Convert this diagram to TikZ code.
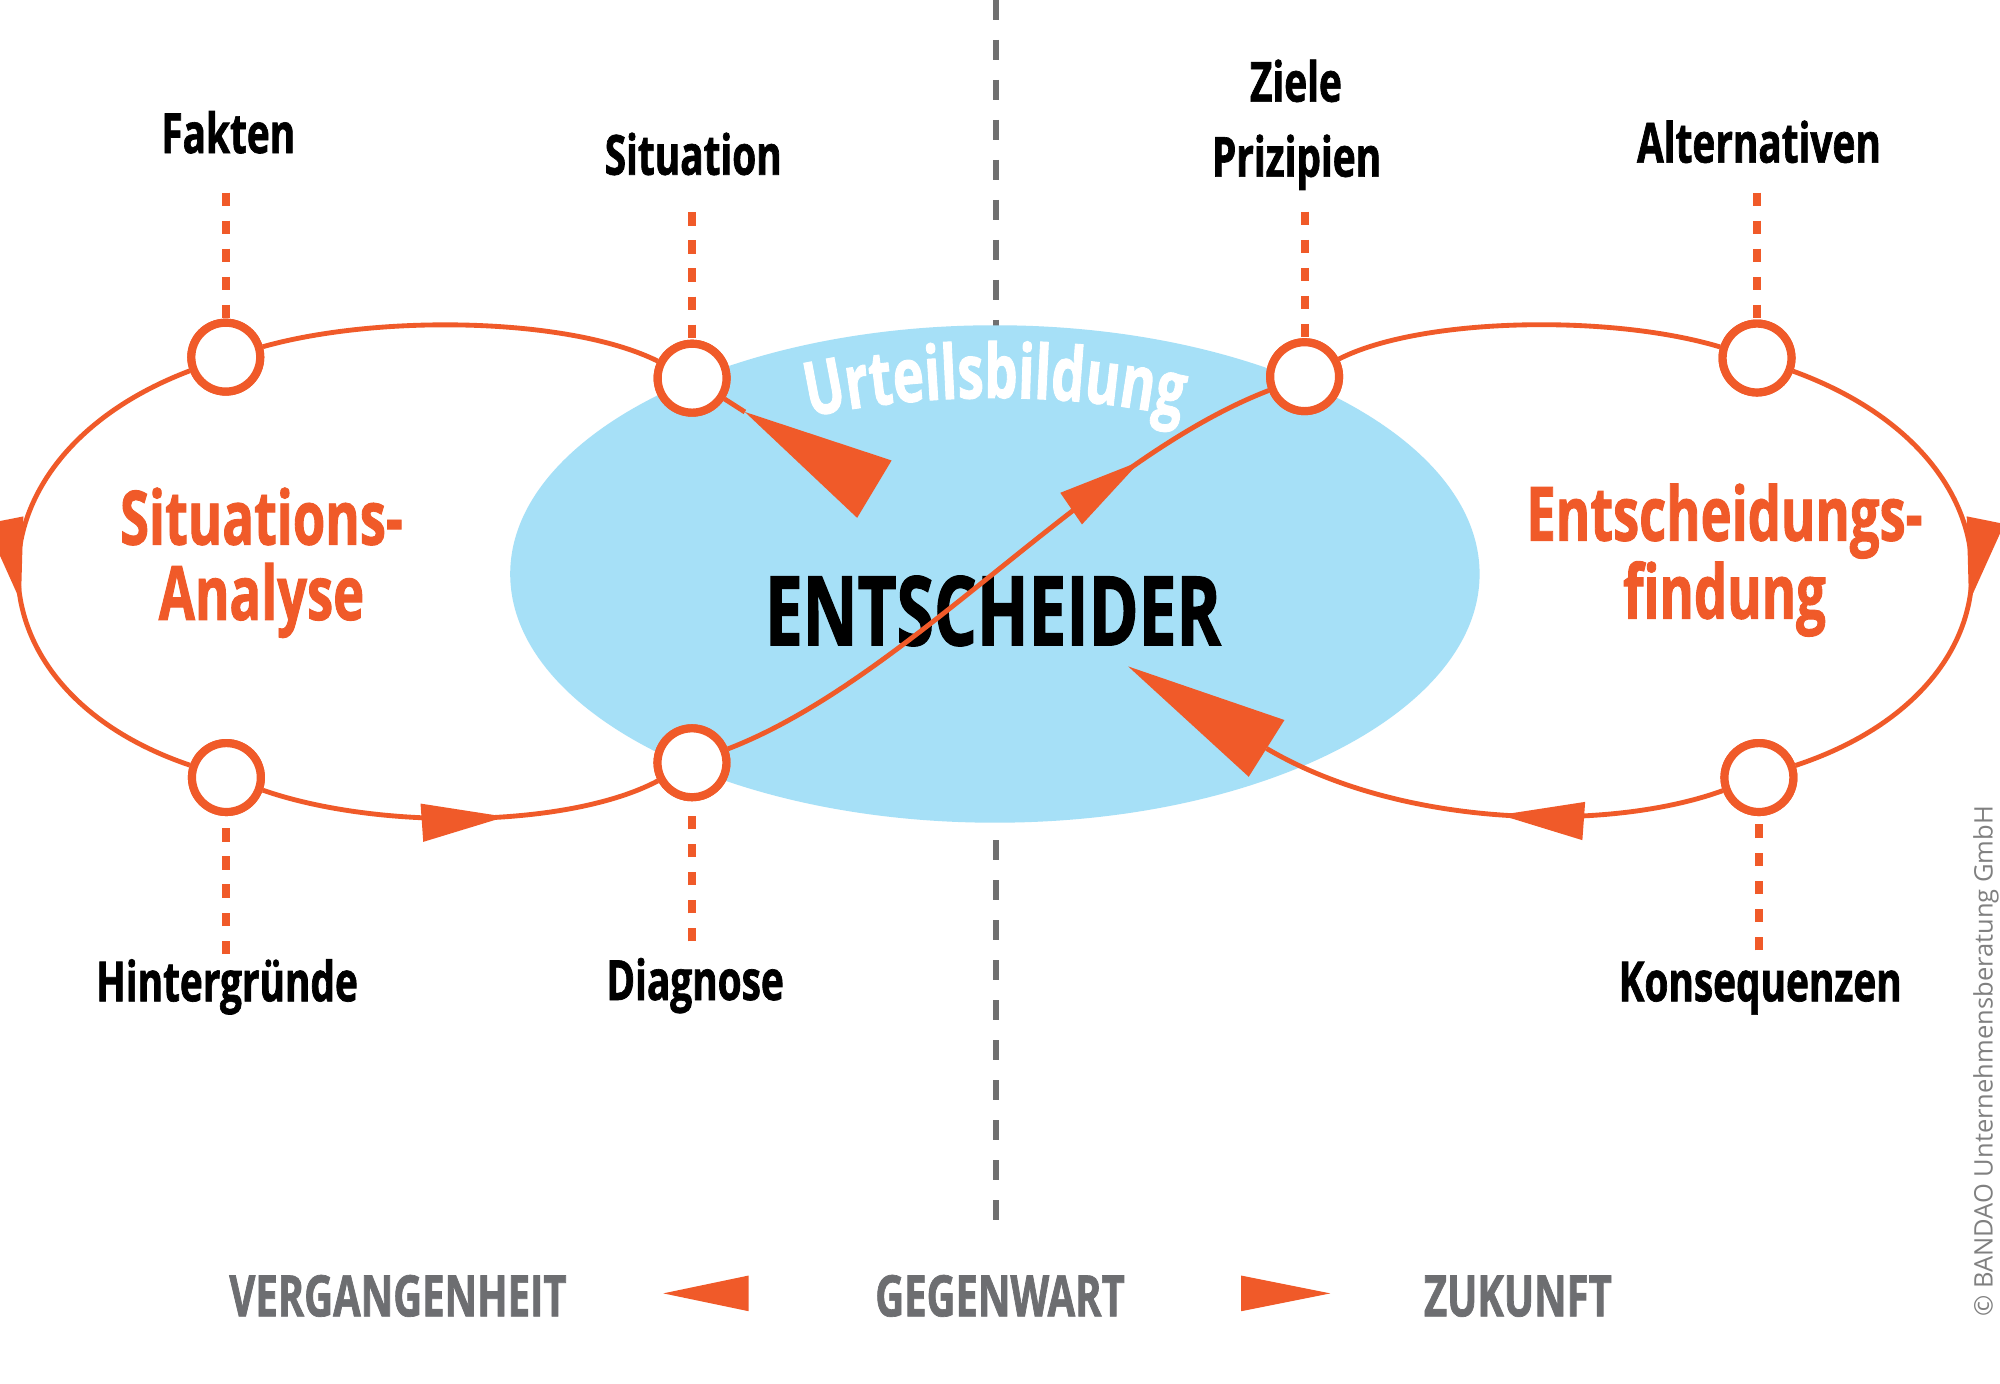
\documentclass[tikz,border=0pt]{standalone}
\usepackage{fontspec}
\setmainfont{Open Sans}
\newfontfamily\cond{Open Sans}[FakeStretch=0.7, BoldFeatures={FakeBold=1.2}]
\usetikzlibrary{arrows.meta,decorations.markings,decorations.text}
\definecolor{orng}{RGB}{240,90,41}
\definecolor{skyb}{RGB}{166,224,247}
\definecolor{gline}{RGB}{112,112,112}
\definecolor{gtext}{RGB}{109,110,113}
\definecolor{gcopy}{RGB}{128,128,128}
\newcommand\urtfont{\cond\bfseries\fontsize{29.5}{32}\selectfont}
\begin{document}
\begin{tikzpicture}[x=0.5pt,y=-0.5pt,
  flow/.style={draw=orng, line width=1.9pt},
  midarrow/.style={postaction={decorate}, decoration={markings, mark=at position #1 with {\arrow{Triangle[length=33pt,width=14.5pt]}}}},
  hub/.style={circle, draw=orng, fill=white, line width=3.2pt, minimum size=27pt, inner sep=0pt},
  odash/.style={draw=orng, line width=3.1pt, dash pattern=on 5.3pt off 5.7pt},
  gdash/.style={draw=gline, line width=2.35pt, dash pattern=on 7.84pt off 7.84pt},
  lbl/.style={font=\cond\bfseries\fontsize{21.7}{26}\selectfont, text=black, inner sep=0pt, anchor=base},
  phase/.style={font=\cond\bfseries\fontsize{29.4}{29.5}\selectfont, text=orng, align=center, inner sep=0pt, anchor=base},
  timelbl/.style={font=\cond\bfseries\fontsize{22.4}{26}\selectfont, text=gtext, inner sep=0pt, anchor=base},
  legendtri/.style={fill=orng}
]
\useasboundingbox (0,0) rectangle (1568,1085);
\fill[white] (0,0) rectangle (1568,1085);

% divider
\coordinate (div-top) at (780.6,0);
\coordinate (div-bot) at (780.6,962);
\draw[gdash] (div-top) -- (div-bot);

% judgement ellipse
\fill[skyb] (780,450) ellipse [x radius=380, y radius=195];
\path[decorate, decoration={text along path, text align=center, text color=white,
   text={|\urtfont|Urteilsbildung}}]
   (596,337) arc[start angle=235, end angle=305, x radius=321, y radius=138];
\node[font=\cond\bfseries\fontsize{37.8}{40}\selectfont, inner sep=0pt, anchor=base] (ent) at (778.5,506) {ENTSCHEIDER};

% hubs (positions)
\coordinate (fak-c) at (177,280);
\coordinate (sit-c) at (542.6,296.5);
\coordinate (hin-c) at (177.5,609.6);
\coordinate (dia-c) at (542.5,598);
\coordinate (zie-c) at (1022.8,295.3);
\coordinate (alt-c) at (1377.5,280.7);
\coordinate (kon-c) at (1379,609.6);

% dashed leader ends
\coordinate (fak-d) at (177,151);
\coordinate (sit-d) at (542.6,166.5);
\coordinate (zie-d) at (1022.8,166);
\coordinate (alt-d) at (1377.5,151);
\coordinate (hin-d) at (177.5,748);
\coordinate (dia-d) at (542.5,738);
\coordinate (kon-d) at (1379,745);

\node[hub] (fak) at (fak-c) {};
\node[hub] (sit) at (sit-c) {};
\node[hub] (hin) at (hin-c) {};
\node[hub] (dia) at (dia-c) {};
\node[hub] (zie) at (zie-c) {};
\node[hub] (alt) at (alt-c) {};
\node[hub] (kon) at (kon-c) {};

% big arrow coordinates
\coordinate (sa-tip) at (584,323);
\coordinate (sa-b1) at (699,361);
\coordinate (sa-b2) at (672,406);
\coordinate (ka-tip) at (884.5,522.5);
\coordinate (ka-b1) at (1007,564.5);
\coordinate (ka-b2) at (979,609);
\coordinate (ka-base) at (993,586.8);

% loops
\draw[flow] (sit) .. controls (447,249) and (298,246) .. (fak);
\draw[flow, midarrow=0.56] (fak) .. controls (-30.9,359) and (-30.9,539) .. (hin);
\draw[flow, midarrow=0.61] (hin) .. controls (298.5,651.6) and (447,648.7) .. (dia);
\draw[flow, midarrow=0.775] (dia) .. controls (713.5,532) and (851.8,361.3) .. (zie);
\draw[flow] (zie) .. controls (1113,249) and (1262,246) .. (alt);
\draw[flow, midarrow=0.56] (alt) .. controls (1592.4,359) and (1592.4,539) .. (kon);
\draw[flow, midarrow=0.48] (kon) .. controls (1262,652) and (1100,650) .. (ka-base);
\fill[orng] (ka-tip) -- (ka-b1) -- (ka-b2) -- cycle;
\draw[flow] (sit) -- (sa-tip);
\fill[orng] (sa-tip) -- (sa-b1) -- (sa-b2) -- cycle;

% dashed leaders
\draw[odash] (fak-d) -- (fak);
\draw[odash] (sit-d) -- (sit);
\draw[odash] (zie-d) -- (zie);
\draw[odash] (alt-d) -- (alt);
\draw[odash] (hin-d) -- (hin);
\draw[odash] (dia-d) -- (dia);
\draw[odash] (kon-d) -- (kon);

% redraw hubs on top
\node[hub] at (fak-c) {};
\node[hub] at (sit-c) {};
\node[hub] at (hin-c) {};
\node[hub] at (dia-c) {};
\node[hub] at (zie-c) {};
\node[hub] at (alt-c) {};
\node[hub] at (kon-c) {};

% labels
\node[lbl] (fak-t) at (179,120) {Fakten};
\node[lbl] (sit-t) at (543.5,137) {Situation};
\node[lbl] (zie-t) at (1016,79.7) {Ziele};
\node[lbl] (pri-t) at (1016.5,138.5) {Prizipien};
\node[lbl] (alt-t) at (1379,127.5) {Alternativen};
\node[lbl] (hin-t) at (178,785) {Hintergründe};
\node[lbl] (dia-t) at (545,784) {Diagnose};
\node[lbl] (kon-t) at (1380,785) {Konsequenzen};

\node[phase] (sa-t) at (205,486) {Situations-\\Analyse};
\node[phase] (ef-t) at (1352,485) {Entscheidungs-\\findung};

% time legend
\node[timelbl] (past) at (312,1032) {VERGANGENHEIT};
\node[timelbl] (now) at (784,1032) {GEGENWART};
\node[timelbl] (fut) at (1190,1032) {ZUKUNFT};
\fill[legendtri] (520,1014) -- (587,1000) -- (587,1028) -- cycle;
\fill[legendtri] (973,1000) -- (973,1028) -- (1043,1014) -- cycle;

\node[font=\fontsize{10}{12}\selectfont, text=gcopy, rotate=90, inner sep=0pt] (copy) at (1557,832) {© BANDAO Unternehmensberatung GmbH};
\end{tikzpicture}
\end{document}
